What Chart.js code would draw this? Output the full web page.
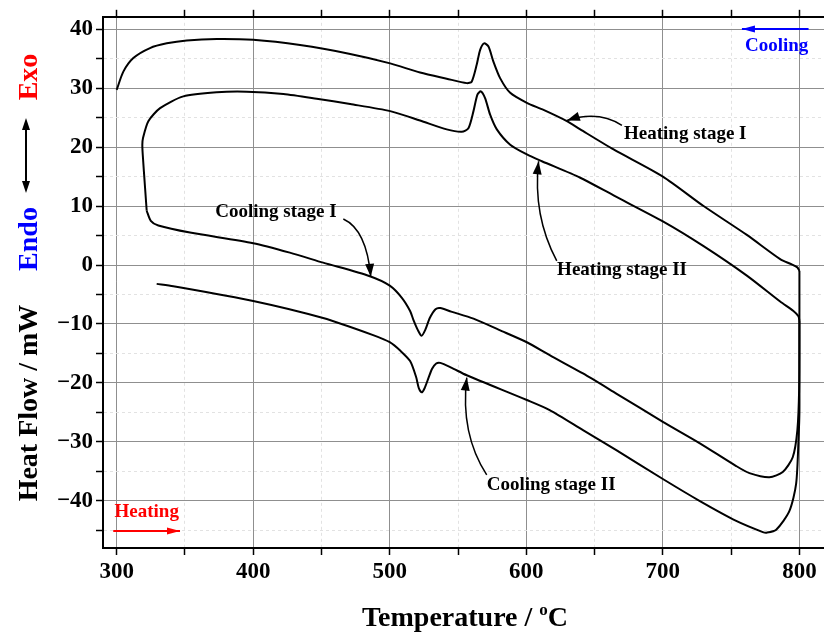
<!DOCTYPE html>
<html>
<head>
<meta charset="utf-8">
<script src="https://cdn.jsdelivr.net/npm/chart.js@4.4.1/dist/chart.umd.min.js"></script>
<style>
  body { margin: 0; background: #fff; }
</style>
</head>
<body>
<canvas id="myChart" width="824" height="637"></canvas>
<script>
// DSC data (temperature in °C, heat flow in mW)
const heat1T = [300, 304.9, 312.2, 324.4, 336.7, 351.3, 373.3, 400, 434.3, 471, 500.3, 522.2, 541.7, 556.4, 560, 563.7, 566.2, 569.1, 572.3, 575.9, 580.8, 588.2, 600.4, 612.6, 629.7, 639.5, 663.9, 700, 729.8, 761.5, 785.9, 794.4, 798.5, 800];
const heat1Q = [29.7, 32.8, 35.1, 36.8, 37.6, 38.1, 38.35, 38.2, 37.3, 35.8, 34.2, 32.65, 31.6, 30.85, 31.1, 34.0, 36.5, 37.6, 37.05, 34.5, 31.7, 29.2, 27.5, 26.3, 24.4, 23.0, 19.6, 15.0, 10.0, 5.1, 1.0, 0.1, -0.4, -1.0];

const cool1T = [800, 800, 799.8, 798.5, 795.1, 787.8, 778, 763.4, 753.7, 726.8, 700, 665.9, 641.5, 617.1, 600.4, 580, 561.3, 545, 537, 533.5, 529.3, 526, 523.3, 520.5, 517.3, 514.9, 509, 500, 485.4, 451.2, 426.8, 400, 353.7, 330.5, 325, 322];
const cool1Q = [-1.0, -10, -21, -28, -32.6, -35.1, -36.0, -35.3, -34.1, -30.2, -26.6, -21.8, -18.4, -15.3, -13.1, -11.0, -9.1, -7.9, -7.3, -7.5, -9.0, -11.0, -12.0, -11.0, -9.3, -7.8, -5.6, -3.5, -1.9, 0.4, 2.1, 3.7, 5.5, 6.7, 7.5, 9.2];

const heat2T = [322, 320.8, 319.1, 318.8, 319.3, 323.2, 331.8, 348.8, 373.3, 395.2, 422.1, 446.5, 471, 500.3, 522.2, 541.7, 552.7, 557.6, 561.3, 564.2, 566.7, 569.8, 573.5, 578.4, 588.2, 600.4, 611.4, 639.5, 663.9, 700, 729.8, 761.5, 785.9, 795.6, 799.3, 800];
const heat2Q = [9.2, 13.1, 18.75, 20.4, 21.55, 24.4, 26.6, 28.6, 29.3, 29.4, 29.0, 28.2, 27.3, 26.1, 24.5, 23.0, 22.6, 23.2, 26.1, 28.9, 29.45, 28.3, 25.5, 23.0, 20.4, 18.75, 17.6, 14.8, 11.8, 7.4, 3.2, -1.8, -6.2, -7.8, -8.7, -9.5];

const cool2T = [800, 800, 800, 799.5, 797.6, 792.7, 783, 776, 773.2, 753.7, 726.8, 700, 665.9, 641.5, 617.1, 600.4, 556.4, 545, 537, 534, 531, 528.3, 525.5, 523.4, 521.3, 519.3, 514.9, 508, 500, 487.8, 451.2, 400, 341.5, 329.3];
const cool2Q = [-9.5, -20, -25, -28.6, -37.1, -41.7, -44.9, -45.4, -45.3, -43.4, -40.0, -36.3, -31.4, -28.0, -24.6, -22.9, -18.7, -17.4, -16.6, -16.7, -17.6, -19.2, -20.9, -21.6, -20.9, -19.0, -16.3, -14.6, -13.1, -11.9, -9.0, -6.1, -3.6, -3.2];

// tick labels
const xMajor = [300, 400, 500, 600, 700, 800];
const yMajor = [-40, -30, -20, -10, 0, 10, 20, 30, 40];

const serif = "'Liberation Serif', 'Times New Roman', serif";

function toPoints(xs, ys) {
    return xs.map((t, i) => ({ x: t, y: ys[i] }));
}

function series(xs, ys) {
    return {
        data: toPoints(xs, ys),
        showLine: true,
        borderColor: '#000',
        borderWidth: 2,
        pointRadius: 0,
        tension: 0.25,
        fill: false
    };
}

// curved label arrows, in data units
const notes = [
    { text: 'Heating stage I', at: [716.4, 22.2], from: [670, 23.7], via: [652.5, 26.3], to: [629.7, 24.5] },
    { text: 'Heating stage II', at: [670.1, -0.8], from: [622.3, 0.7], via: [604.6, 8.4], to: [609, 17.6] },
    { text: 'Cooling stage I', at: [416.6, 8.9], from: [466, 7.8], via: [483, 6.0], to: [486.1, -2.0] },
    { text: 'Cooling stage II', at: [618.2, -37.25], from: [571, -35.6], via: [551.5, -28.6], to: [556.4, -19.1] }
];

function arrowHead(ctx, x, y, fromX, fromY, len, half) {
    const a = Math.atan2(y - fromY, x - fromX);
    ctx.beginPath();
    ctx.moveTo(x, y);
    ctx.lineTo(x - len * Math.cos(a) + half * Math.sin(a), y - len * Math.sin(a) - half * Math.cos(a));
    ctx.lineTo(x - len * Math.cos(a) - half * Math.sin(a), y - len * Math.sin(a) + half * Math.cos(a));
    ctx.closePath();
    ctx.fill();
}

const decorations = {
    id: 'decorations',
    afterDraw(chart) {
        const { ctx, scales } = chart;
        const px = v => scales.x.getPixelForValue(v);
        const py = v => scales.y.getPixelForValue(v);
        ctx.save();

        // stage labels with curved arrows
        ctx.font = 'bold 19px ' + serif;
        ctx.textAlign = 'center';
        ctx.textBaseline = 'middle';
        ctx.fillStyle = '#000';
        ctx.strokeStyle = '#000';
        ctx.lineWidth = 1.5;
        notes.forEach(n => {
            ctx.fillText(n.text, px(n.at[0]), py(n.at[1]));
            const x0 = px(n.from[0]), y0 = py(n.from[1]);
            const cx = px(n.via[0]), cy = py(n.via[1]);
            const x1 = px(n.to[0]), y1 = py(n.to[1]);
            ctx.beginPath();
            ctx.moveTo(x0, y0);
            ctx.quadraticCurveTo(cx, cy, x1, y1);
            ctx.stroke();
            arrowHead(ctx, x1, y1, cx, cy, 13, 4.5);
        });

        // Heating (red) and Cooling (blue) direction arrows
        ctx.lineWidth = 2;
        ctx.fillStyle = ctx.strokeStyle = '#ff0000';
        ctx.fillText('Heating', px(322), py(-41.9));
        ctx.beginPath();
        ctx.moveTo(px(297.5), py(-45.1));
        ctx.lineTo(px(346.4), py(-45.1));
        ctx.stroke();
        arrowHead(ctx, px(346.4), py(-45.1), px(297.5), py(-45.1), 13, 3.5);

        ctx.fillStyle = ctx.strokeStyle = '#0000ff';
        ctx.fillText('Cooling', px(783.3), py(37.05));
        ctx.beginPath();
        ctx.moveTo(px(806.7), py(40.04));
        ctx.lineTo(px(757.9), py(40.04));
        ctx.stroke();
        arrowHead(ctx, px(757.9), py(40.04), px(806.7), py(40.04), 13, 3.5);

        // y axis title block
        ctx.font = 'bold 28px ' + serif;
        ctx.textBaseline = 'alphabetic';
        const vtext = (t, y, color) => {
            ctx.save();
            ctx.translate(37, y);
            ctx.rotate(-Math.PI / 2);
            ctx.fillStyle = color;
            ctx.fillText(t, 0, 0);
            ctx.restore();
        };
        vtext('Heat Flow / mW', 403, '#000');
        vtext('Endo', 239, '#0000ff');
        vtext('Exo', 77, '#ff0000');

        ctx.strokeStyle = ctx.fillStyle = '#000';
        ctx.lineWidth = 2;
        ctx.beginPath();
        ctx.moveTo(26, 124);
        ctx.lineTo(26, 187);
        ctx.stroke();
        arrowHead(ctx, 26, 118, 26, 130, 12, 4);
        arrowHead(ctx, 26, 193, 26, 181, 12, 4);

        // x axis title with superscript o
        const big = 'bold 28px ' + serif, small = 'bold 17px ' + serif;
        ctx.textAlign = 'left';
        ctx.font = big;
        const w1 = ctx.measureText('Temperature / ').width;
        const w3 = ctx.measureText('C').width;
        ctx.font = small;
        const w2 = ctx.measureText('o').width;
        let x = 465 - (w1 + w2 + w3) / 2;
        const base = 626;
        ctx.font = big;
        ctx.fillText('Temperature / ', x, base);
        ctx.font = small;
        ctx.fillText('o', x + w1, base - 11);
        ctx.font = big;
        ctx.fillText('C', x + w1 + w2, base);

        ctx.restore();
    }
};

const isMinorX = c => c.tick && !xMajor.includes(c.tick.value);
const isMinorY = c => c.tick && !yMajor.includes(c.tick.value);

const tickFont = { family: serif, size: 23, weight: 'bold' };

new Chart(document.getElementById('myChart'), {
    type: 'scatter',
    data: {
        datasets: [
            series(heat1T, heat1Q),
            series(cool1T, cool1Q),
            series(heat2T, heat2Q),
            series(cool2T, cool2Q)
        ]
    },
    options: {
        responsive: false,
        animation: false,
        layout: { padding: 0 },
        plugins: {
            legend: { display: false },
            tooltip: { enabled: false }
        },
        scales: {
            x: {
                type: 'linear',
                position: 'bottom',
                min: 290,
                max: 818,
                ticks: {
                    stepSize: 50,
                    includeBounds: false,
                    autoSkip: false,
                    maxRotation: 0,
                    padding: 3,
                    color: '#000',
                    font: tickFont,
                    callback: v => xMajor.includes(v) ? String(v) : ''
                },
                grid: {
                    color: c => isMinorX(c) ? '#e2e2e2' : '#8f8f8f',
                    lineWidth: 1,
                    tickColor: '#000',
                    tickWidth: 1.5,
                    tickLength: 7
                },
                border: {
                    color: '#000',
                    width: 2,
                    dash: c => isMinorX(c) ? [3, 3] : []
                },
                afterFit: s => { s.height = 89; }
            },
            x2: {
                type: 'linear',
                position: 'top',
                min: 290,
                max: 818,
                ticks: { stepSize: 50, includeBounds: false, display: false },
                grid: {
                    drawOnChartArea: false,
                    tickColor: '#000',
                    tickWidth: 1.5,
                    tickLength: 7
                },
                border: { color: '#000', width: 2 },
                afterFit: s => { s.height = 16; }
            },
            y: {
                type: 'linear',
                min: -48,
                max: 42.1,
                ticks: {
                    stepSize: 5,
                    includeBounds: false,
                    autoSkip: false,
                    padding: 3,
                    color: '#000',
                    font: tickFont,
                    callback: v => yMajor.includes(v) ? String(v).replace('-', '\u2212') : ''
                },
                grid: {
                    color: c => isMinorY(c) ? '#e2e2e2' : '#8f8f8f',
                    lineWidth: 1,
                    tickColor: '#000',
                    tickWidth: 1.5,
                    tickLength: 7
                },
                border: {
                    color: '#000',
                    width: 2,
                    dash: c => isMinorY(c) ? [3, 3] : []
                },
                afterFit: s => { s.width = 103; }
            }
        }
    },
    plugins: [decorations]
});
</script>
</body>
</html>
